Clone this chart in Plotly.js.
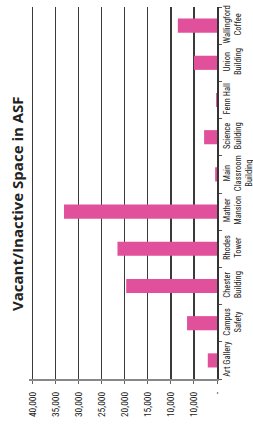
<!DOCTYPE html>
<html>
<head>
<meta charset="utf-8">
<script src="https://cdn.plot.ly/plotly-3.0.1.min.js"></script>
<style>html,body{margin:0;padding:0;background:#fff;}#chart{width:253px;height:424px;}</style>
</head>
<body>
<div id="chart"></div>
<script>
const categories = ["Art Gallery", "Campus<br>Safety", "Chester<br>Building", "Rhodes<br>Tower", "Mather<br>Mansion", "Main<br>Classroom<br>Building", "Science<br>Building", "Fenn Hall", "Union<br>Building", "Wallingford<br>Coffee"];
const vacantASF = [2000, 6500, 19700, 21600, 33200, 400, 2800, 200, 5000, 8500];
const tickValues = [0, 5000, 10000, 15000, 20000, 25000, 30000, 35000, 40000];
const tickLabels = ["-", "10,000", "10,000", "15,000", "20,000", "25,000", "30,000", "35,000", "40,000"];
const chartTitle = "Vacant/Inactive Space in ASF";

const font = "'Liberation Sans Narrow', 'Arial Narrow', 'Roboto Condensed', sans-serif";

Plotly.newPlot("chart", [{
  type: "bar",
  orientation: "h",
  y: categories,
  x: vacantASF,
  marker: {color: "#E1509A"},
  hoverinfo: "none"
}], {
  width: 253, height: 424,
  margin: {l: 29, r: 36, t: 7, b: 45, pad: 0},
  paper_bgcolor: "#fff", plot_bgcolor: "#fff",
  bargap: 0.62,
  showlegend: false,
  xaxis: {
    range: [40800, 0],
    tickvals: tickValues, ticktext: tickLabels,
    tickangle: -90,
    tickfont: {family: font, size: 9.5, color: "#222"},
    showgrid: true, gridcolor: "#3a3a3a", gridwidth: 1.2,
    zeroline: false,
    showline: true, linecolor: "#888", linewidth: 2,
    ticks: "outside", ticklen: 3, tickcolor: "#666",
    ticklabelstandoff: 4,
    fixedrange: true
  },
  yaxis: {
    type: "category",
    side: "right",
    tickangle: -90,
    tickson: "boundaries",
    ticks: "outside", ticklen: 3, tickcolor: "#555",
    tickfont: {family: font, size: 8.5, color: "#222"},
    ticklabelstandoff: 1,
    showline: true, linecolor: "#333", linewidth: 1.5,
    showgrid: false, zeroline: false,
    fixedrange: true
  },
  annotations: [{
    text: "<b>" + chartTitle + "</b>",
    xref: "paper", yref: "paper",
    x: -0.064, y: 0.473,
    xanchor: "center", yanchor: "middle",
    textangle: -90, showarrow: false,
    font: {family: "'Open Sans', sans-serif", size: 15, color: "#222"}
  }]
}, {displayModeBar: false, staticPlot: true});
</script>
</body>
</html>
